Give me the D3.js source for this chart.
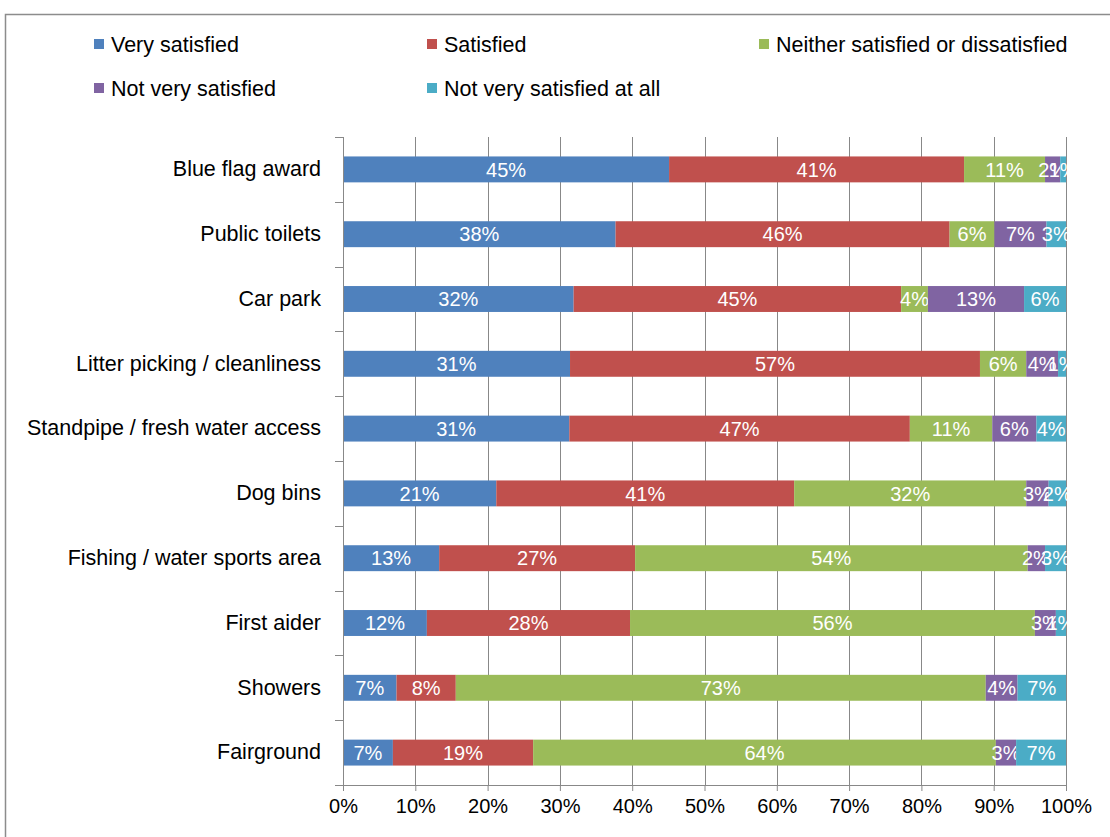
<!DOCTYPE html>
<html>
<head>
<meta charset="utf-8">
<script src="https://cdn.jsdelivr.net/npm/d3@7"></script>
<style>
  html, body { margin: 0; padding: 0; background: #fff; }
  svg { display: block; font-family: "Liberation Sans", Arial, sans-serif; }
</style>
</head>
<body>
<svg id="chart" width="1110" height="837"></svg>
<script>
// Facilities rated by visitors, share of responses per satisfaction level (%)
const categories = [
  "Blue flag award",
  "Public toilets",
  "Car park",
  "Litter picking / cleanliness",
  "Standpipe / fresh water access",
  "Dog bins",
  "Fishing / water sports area",
  "First aider",
  "Showers",
  "Fairground"
];
const seriesNames = [
  "Very satisfied",
  "Satisfied",
  "Neither satisfied or dissatisfied",
  "Not very satisfied",
  "Not very satisfied at all"
];
const verySatisfied      = [45.1, 37.7, 31.9, 31.4, 31.3, 21.2, 13.3, 11.6, 7.4, 6.9];
const satisfied          = [40.8, 46.2, 45.3, 56.7, 47.1, 41.2, 27.1, 28.1, 8.2, 19.4];
const neither            = [11.2, 6.2, 3.7, 6.4, 11.4, 32.1, 54.3, 56.0, 73.3, 64.0];
const notVerySatisfied   = [2.1, 7.2, 13.3, 4.4, 6.1, 3.1, 2.4, 2.9, 4.4, 2.8];
const notSatisfiedAtAll  = [0.8, 2.7, 5.8, 1.1, 4.1, 2.4, 2.9, 1.4, 6.7, 6.9];
const xTicks = [0, 10, 20, 30, 40, 50, 60, 70, 80, 90, 100];
const colors = ["#4F81BD", "#C0504D", "#9BBB59", "#8064A2", "#4BACC6"];

const seriesValues = [verySatisfied, satisfied, neither, notVerySatisfied, notSatisfiedAtAll];
const keys = seriesNames;
const rows = categories.map((c, i) => {
  const r = { category: c };
  keys.forEach((k, j) => { r[k] = seriesValues[j][i]; });
  return r;
});

const svg = d3.select("#chart");

// Outer chart frame
svg.append("rect")
  .attr("x", 5.5).attr("y", 14.5)
  .attr("width", 1200).attr("height", 900)
  .attr("fill", "#fff").attr("stroke", "#8c8c8c").attr("stroke-width", 1.5);

const plot = { left: 343, right: 1066, top: 137, bottom: 785 };

const x = d3.scaleLinear().domain([0, 100]).range([plot.left, plot.right]);
const y = d3.scaleBand().domain(categories)
  .range([plot.top, plot.bottom])
  .paddingInner(0.6).paddingOuter(0.3);

// Vertical gridlines
svg.append("g")
  .selectAll("line")
  .data(xTicks.filter(t => t > 0))
  .join("line")
  .attr("x1", d => Math.round(x(d)) + 0.5).attr("x2", d => Math.round(x(d)) + 0.5)
  .attr("y1", plot.top).attr("y2", plot.bottom)
  .attr("stroke", "#888").attr("stroke-width", 1);

// Stacked bars (each row totals 100%)
const stacked = d3.stack().keys(keys)(rows);

const layer = svg.append("g").selectAll("g")
  .data(stacked)
  .join("g")
  .attr("fill", (d, i) => colors[i]);

layer.selectAll("rect")
  .data(d => d.map(v => ({ v, key: d.key })))
  .join("rect")
  .attr("x", d => x(d.v[0]))
  .attr("y", d => y(d.v.data.category))
  .attr("width", d => x(d.v[1]) - x(d.v[0]))
  .attr("height", y.bandwidth());

// Value labels centred in each segment
const fmt = d3.format(".0f");
layer.selectAll("text")
  .data(d => d.map(v => ({ v, key: d.key })))
  .join("text")
  .attr("x", d => (x(d.v[0]) + x(d.v[1])) / 2)
  .attr("y", d => y(d.v.data.category) + y.bandwidth() / 2)
  .attr("dy", "0.36em")
  .attr("text-anchor", "middle")
  .attr("fill", "#fff")
  .attr("font-size", 20)
  .text(d => fmt(d.v[1] - d.v[0]) + "%");

// Y axis with category ticks at band boundaries
const yAxisG = svg.append("g");
yAxisG.append("line")
  .attr("x1", plot.left + 0.5).attr("x2", plot.left + 0.5)
  .attr("y1", plot.top).attr("y2", plot.bottom)
  .attr("stroke", "#888");
const step = y.step();
yAxisG.selectAll("line.tick")
  .data(d3.range(categories.length + 1))
  .join("line")
  .attr("class", "tick")
  .attr("x1", plot.left - 8).attr("x2", plot.left)
  .attr("y1", i => Math.round(plot.top + i * step) + 0.5)
  .attr("y2", i => Math.round(plot.top + i * step) + 0.5)
  .attr("stroke", "#888");
yAxisG.selectAll("text")
  .data(categories)
  .join("text")
  .attr("x", plot.left - 22)
  .attr("y", d => y(d) + y.bandwidth() / 2 - 1)
  .attr("dy", "0.36em")
  .attr("text-anchor", "end")
  .attr("font-size", 21.5)
  .attr("fill", "#000")
  .text(d => d);

// X axis
const xAxis = d3.axisBottom(x)
  .tickValues(xTicks)
  .tickFormat(d => d + "%")
  .tickSize(6)
  .tickPadding(8);
const xAxisG = svg.append("g")
  .attr("transform", `translate(0,${plot.bottom})`)
  .call(xAxis);
xAxisG.select(".domain").attr("stroke", "#888");
xAxisG.selectAll(".tick line").attr("stroke", "#888");
xAxisG.selectAll(".tick text")
  .attr("font-size", 20)
  .attr("font-family", "Liberation Sans, Arial, sans-serif")
  .attr("fill", "#000");

// Legend
const legendPos = [
  { x: 94, y: 44 }, { x: 427, y: 44 }, { x: 759, y: 44 },
  { x: 94, y: 88 }, { x: 427, y: 88 }
];
const legend = svg.append("g").selectAll("g")
  .data(seriesNames)
  .join("g")
  .attr("transform", (d, i) => `translate(${legendPos[i].x},${legendPos[i].y})`);
legend.append("rect")
  .attr("x", 0).attr("y", -5)
  .attr("width", 10).attr("height", 10)
  .attr("fill", (d, i) => colors[i]);
legend.append("text")
  .attr("x", 17).attr("y", 0)
  .attr("dy", "0.36em")
  .attr("font-size", 21.5)
  .attr("fill", "#000")
  .text(d => d);
</script>
</body>
</html>
